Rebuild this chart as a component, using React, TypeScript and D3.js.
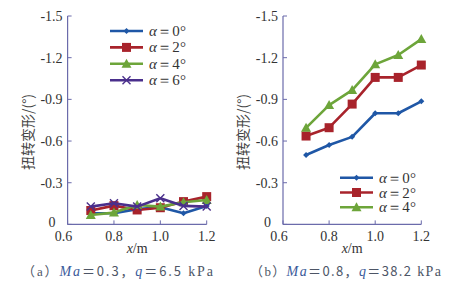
import React from "react";
import * as d3 from "d3";

const xValues = [0.7, 0.8, 0.9, 1.0, 1.1, 1.2];
const xTicks = [0.6, 0.8, 1.0, 1.2];
const yTicks = [0, -0.3, -0.6, -0.9, -1.2, -1.5];

// Panel (a): Ma=0.3
const a0 = [-0.08, -0.08, -0.11, -0.124, -0.08, -0.133];
const a2 = [-0.10, -0.135, -0.104, -0.12, -0.164, -0.2];
const a4 = [-0.068, -0.085, -0.14, -0.128, -0.16, -0.176];
const a6 = [-0.128, -0.152, -0.128, -0.188, -0.133, -0.128];

// Panel (b): Ma=0.8
const b0 = [-0.5, -0.571, -0.63, -0.8, -0.8, -0.886];
const b2 = [-0.636, -0.696, -0.866, -1.058, -1.058, -1.147];
const b4 = [-0.695, -0.859, -0.967, -1.152, -1.219, -1.334];

const seriesNames = ["0", "2", "4", "6"];
const colors = ["#1f57a6", "#a8232b", "#6da53a", "#4a2f8c"];
const markerTypes = ["diamond", "square", "triangle", "cross"];

const AXIS = "#6b6bab";
const TEXT = "#333";
const SERIF = { fontFamily: "Liberation Serif" };
const CJK = { fontFamily: "Noto Sans CJK SC" };

function Marker({ type, x, y, color }: { type: string; x: number; y: number; color: string }) {
  if (type === "diamond") {
    const s = 3;
    return <path d={`M${x},${y - s}L${x + s},${y}L${x},${y + s}L${x - s},${y}Z`} fill={color} />;
  }
  if (type === "square") {
    const s = 4.5;
    return <rect x={x - s} y={y - s} width={2 * s} height={2 * s} fill={color} />;
  }
  if (type === "triangle") {
    const s = 5;
    return <path d={`M${x},${y - s}L${x + s},${y + s * 0.8}L${x - s},${y + s * 0.8}Z`} fill={color} />;
  }
  const s = 4;
  return (
    <path d={`M${x - s},${y - s}L${x + s},${y + s}M${x - s},${y + s}L${x + s},${y - s}`} stroke={color} strokeWidth={1.4} />
  );
}

function Panel({
  x0, x1, series, legendX, legendY, legendStep, labelX, caption, capX,
}: {
  x0: number; x1: number; series: number[][]; legendX: number; legendY: number; legendStep: number; labelX: number;
  caption: { tag: string; ma: string; q: string }; capX: number;
}) {
  const xs = d3.scaleLinear().domain([0.6, 1.2]).range([x0, x1]);
  const ys = d3.scaleLinear().domain([0, -1.5]).range([224.4, 16]);
  const line = d3.line<[number, number]>().x((d) => xs(d[0])).y((d) => ys(d[1]));
  return (
    <g>
      <line x1={x0} x2={x0} y1={ys(-1.5)} y2={ys(0)} stroke={AXIS} strokeWidth={1.2} />
      <line x1={x0} x2={x1} y1={ys(0)} y2={ys(0)} stroke={AXIS} strokeWidth={1.2} />
      {yTicks.map((t) => (
        <g key={t}>
          <line x1={x0} x2={x0 + 4} y1={ys(t)} y2={ys(t)} stroke={AXIS} strokeWidth={1} />
          <text
            x={t === 0 ? x0 - 12 : x0 - 5}
            y={t === 0 ? ys(t) + 3 : ys(t) + 5}
            textAnchor="end"
            style={SERIF}
            fontSize={14}
            fill={TEXT}
          >
            {t === 0 ? "0" : d3.format(".1f")(t).replace("−", "-")}
          </text>
        </g>
      ))}
      {xTicks.map((t) => (
        <g key={t}>
          <line x1={xs(t)} x2={xs(t)} y1={ys(0)} y2={ys(0) - 4} stroke={AXIS} strokeWidth={1} />
          <text x={t === 0.6 ? xs(t) - 4 : xs(t)} y={241} textAnchor="middle" style={SERIF} fontSize={14} fill={TEXT}>
            {d3.format(".1f")(t)}
          </text>
        </g>
      ))}
      <text x={(x0 + x1) / 2} y={253} textAnchor="middle" style={SERIF} fontSize={14} fill={TEXT}>
        <tspan fontStyle="italic">x</tspan>/m
      </text>
      <text
        transform={`translate(${labelX},132) rotate(-90)`}
        textAnchor="middle"
        style={CJK}
        fontSize={14}
        fill="#444"
        dominantBaseline="central"
      >
        扭转变形/(°)
      </text>
      {series.map((vals, i) => {
        const pts: [number, number][] = xValues.map((x, j) => [x, vals[j]]);
        return (
          <g key={i}>
            <path d={line(pts) || ""} fill="none" stroke={colors[i]} strokeWidth={2.6} strokeLinejoin="round" />
            {pts.map((p, j) => (
              <Marker key={j} type={markerTypes[i]} x={xs(p[0])} y={ys(p[1])} color={colors[i]} />
            ))}
          </g>
        );
      })}
      {series.map((_, i) => {
        const ly = legendY + i * legendStep;
        return (
          <g key={"l" + i}>
            <line x1={legendX} x2={legendX + 33} y1={ly} y2={ly} stroke={colors[i]} strokeWidth={2.6} />
            <Marker type={markerTypes[i]} x={legendX + 16.5} y={ly} color={colors[i]} />
            <text x={legendX + 39} y={ly + 5} style={SERIF} fontSize={15} fill={TEXT} textLength={37} lengthAdjust="spacing">
              <tspan fontStyle="italic">α</tspan>＝{seriesNames[i]}°
            </text>
          </g>
        );
      })}
      <text x={capX} y={276} style={SERIF} fontSize={13} fill="#4d5566" textLength={191} lengthAdjust="spacing">
        <tspan style={CJK}>（</tspan>
        {caption.tag}
        <tspan style={CJK}>）</tspan>
        <tspan fontStyle="italic" fill="#3a5a9a" fontSize={14}>Ma</tspan>
        <tspan style={CJK}>＝{caption.ma}，</tspan>
        <tspan fontStyle="italic" fill="#3a5a9a" fontSize={14}>q</tspan>
        <tspan style={CJK}>＝{caption.q}</tspan>
        <tspan fontSize={14}> kPa</tspan>
      </text>
    </g>
  );
}

export default function App() {
  return (
    <svg width={457} height={284} style={{ position: "absolute", left: 0, top: 0, background: "#fff" }}>
      <Panel
        x0={67.6}
        x1={206.7}
        series={[a0, a2, a4, a6]}
        legendX={110}
        legendY={31}
        legendStep={16.4}
        labelX={27}
        caption={{ tag: "a", ma: "0.3", q: "6.5" }}
        capX={22}
      />
      <Panel
        x0={283}
        x1={421.3}
        series={[b0, b2, b4]}
        legendX={340}
        legendY={177.7}
        legendStep={14.8}
        labelX={242}
        caption={{ tag: "b", ma: "0.8", q: "38.2" }}
        capX={250}
      />
    </svg>
  );
}
